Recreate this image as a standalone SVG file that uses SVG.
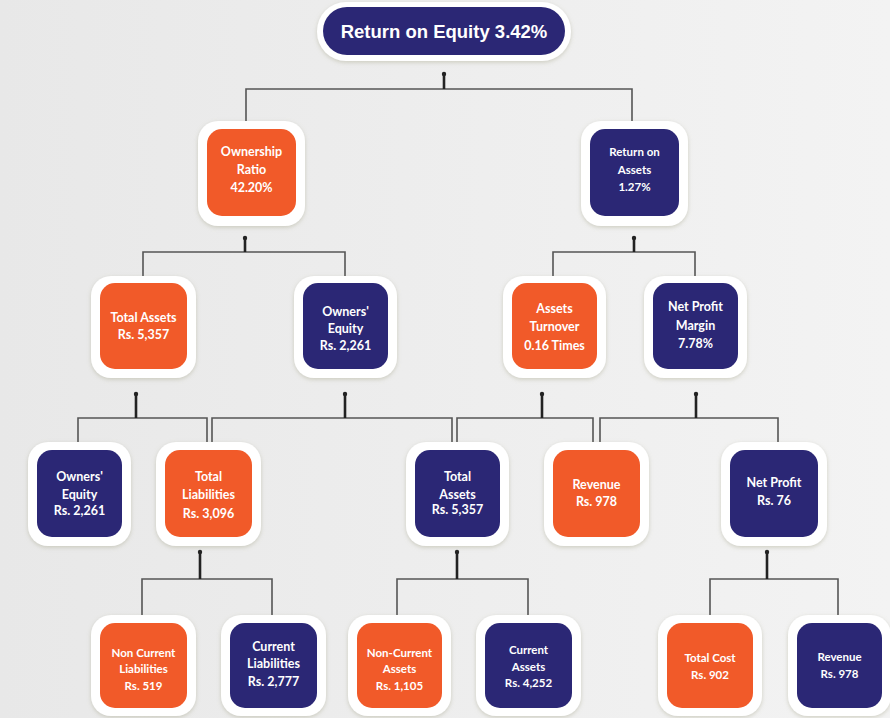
<svg xmlns="http://www.w3.org/2000/svg" width="890" height="718" viewBox="0 0 890 718">
<defs>
<linearGradient id="bg" x1="0" y1="0" x2="1" y2="0">
<stop offset="0" stop-color="#e8e8e8"/>
<stop offset="1" stop-color="#f3f3f3"/>
</linearGradient>
<filter id="sh" x="-20%" y="-20%" width="140%" height="140%">
<feDropShadow dx="0" dy="1.5" stdDeviation="2" flood-color="#9a9a7a" flood-opacity="0.4"/>
</filter>
<marker id="dot" markerWidth="6" markerHeight="6" refX="3" refY="3" markerUnits="userSpaceOnUse">
<circle cx="3" cy="3" r="2.2" fill="#222"/>
</marker>
</defs>
<style>
.halo{fill:#ffffff;filter:url(#sh)}
.or{fill:#f15a29}
.nv{fill:#2b2775}
.t{font-family:Lato,"Open Sans",sans-serif;font-weight:700;fill:#ffffff;text-anchor:middle;font-size:12.5px}
.s{font-size:11.5px}
.ln{fill:none;stroke:#555;stroke-width:1.6}
.stub{fill:none;stroke:#222;stroke-width:2.6;marker-start:url(#dot)}
</style>
<rect width="890" height="718" fill="url(#bg)"/>

<g id="connectors">
<path class="ln" d="M246 122V89H632V122"/>
<path class="stub" d="M444 74V89"/>
<path class="ln" d="M143 278V252H345V278"/>
<path class="stub" d="M245 238V252"/>
<path class="ln" d="M553 278V252H695V278"/>
<path class="stub" d="M634 238V252"/>
<path class="ln" d="M78 443V418H207V443"/>
<path class="stub" d="M136 394V418"/>
<path class="ln" d="M212 443V418H452V443"/>
<path class="stub" d="M345 394V418"/>
<path class="ln" d="M457 443V418H593V443"/>
<path class="stub" d="M542 394V418"/>
<path class="ln" d="M600 443V418H778V443"/>
<path class="stub" d="M696 394V418"/>
<path class="ln" d="M142 615V579H272V615"/>
<path class="stub" d="M200 552V579"/>
<path class="ln" d="M397 615V579H528V615"/>
<path class="stub" d="M457 552V579"/>
<path class="ln" d="M710 615V579H838V615"/>
<path class="stub" d="M767 552V579"/>
</g>

<g id="roe">
<rect class="halo" x="317" y="2" width="254" height="59" rx="29"/>
<rect class="nv" x="323" y="7" width="242" height="48" rx="24"/>
<text x="444" y="38" style="font-family:'Liberation Sans',Arial,sans-serif;font-weight:700;font-size:18.5px;fill:#fff;text-anchor:middle">Return on Equity 3.42%</text>
</g>

<g id="ownership-ratio">
<rect class="halo" x="198" y="121" width="107" height="105" rx="20"/>
<rect class="or" x="207" y="129" width="89" height="87" rx="15"/>
<text class="t" x="251.5" y="156">Ownership</text>
<text class="t" x="251.5" y="174">Ratio</text>
<text class="t" x="251.5" y="192">42.20%</text>
</g>

<g id="roa">
<rect class="halo" x="581" y="121" width="107" height="105" rx="20"/>
<rect class="nv" x="590" y="129" width="89" height="87" rx="15"/>
<text class="t s" x="634.5" y="156">Return on</text>
<text class="t s" x="634.5" y="174">Assets</text>
<text class="t s" x="634.5" y="191">1.27%</text>
</g>

<g id="total-assets-1">
<rect class="halo" x="91" y="276" width="105" height="102" rx="20"/>
<rect class="or" x="100" y="283" width="87" height="86" rx="15"/>
<text class="t" x="143.5" y="322">Total Assets</text>
<text class="t" x="143.5" y="339">Rs. 5,357</text>
</g>

<g id="owners-equity-1">
<rect class="halo" x="294" y="276" width="103" height="102" rx="20"/>
<rect class="nv" x="303" y="283" width="85" height="86" rx="15"/>
<text class="t" x="345.5" y="316">Owners'</text>
<text class="t" x="345.5" y="333">Equity</text>
<text class="t" x="345.5" y="350">Rs. 2,261</text>
</g>

<g id="assets-turnover">
<rect class="halo" x="503" y="276" width="103" height="102" rx="20"/>
<rect class="or" x="512" y="283" width="85" height="86" rx="15"/>
<text class="t" x="554.5" y="313">Assets</text>
<text class="t" x="554.5" y="331">Turnover</text>
<text class="t" x="554.5" y="350">0.16 Times</text>
</g>

<g id="net-profit-margin">
<rect class="halo" x="644" y="276" width="103" height="102" rx="20"/>
<rect class="nv" x="653" y="283" width="85" height="86" rx="15"/>
<text class="t" x="695.5" y="311">Net Profit</text>
<text class="t" x="695.5" y="330">Margin</text>
<text class="t" x="695.5" y="348">7.78%</text>
</g>

<g id="owners-equity-2">
<rect class="halo" x="28" y="442" width="103" height="104" rx="20"/>
<rect class="nv" x="37" y="450" width="85" height="87" rx="15"/>
<text class="t" x="79.5" y="481">Owners'</text>
<text class="t" x="79.5" y="499">Equity</text>
<text class="t" x="79.5" y="515">Rs. 2,261</text>
</g>

<g id="total-liabilities">
<rect class="halo" x="156" y="442" width="105" height="104" rx="20"/>
<rect class="or" x="165" y="450" width="87" height="87" rx="15"/>
<text class="t" x="208.5" y="481">Total</text>
<text class="t" x="208.5" y="499">Liabilities</text>
<text class="t" x="208.5" y="518">Rs. 3,096</text>
</g>

<g id="total-assets-2">
<rect class="halo" x="406" y="442" width="103" height="104" rx="20"/>
<rect class="nv" x="415" y="450" width="85" height="87" rx="15"/>
<text class="t" x="457.5" y="481">Total</text>
<text class="t" x="457.5" y="499">Assets</text>
<text class="t" x="457.5" y="514">Rs. 5,357</text>
</g>

<g id="revenue-1">
<rect class="halo" x="544" y="442" width="105" height="104" rx="20"/>
<rect class="or" x="553" y="450" width="87" height="87" rx="15"/>
<text class="t" x="596.5" y="489">Revenue</text>
<text class="t" x="596.5" y="506">Rs. 978</text>
</g>

<g id="net-profit">
<rect class="halo" x="721" y="442" width="106" height="104" rx="20"/>
<rect class="nv" x="730" y="450" width="88" height="87" rx="15"/>
<text class="t" x="774" y="487">Net Profit</text>
<text class="t" x="774" y="505">Rs. 76</text>
</g>

<g id="non-current-liabilities">
<rect class="halo" x="91" y="615" width="105" height="101" rx="20"/>
<rect class="or" x="100" y="623" width="87" height="85" rx="15"/>
<text class="t s" x="143.5" y="657">Non Current</text>
<text class="t s" x="143.5" y="673">Liabilities</text>
<text class="t s" x="143.5" y="690">Rs. 519</text>
</g>

<g id="current-liabilities">
<rect class="halo" x="221" y="615" width="105" height="101" rx="20"/>
<rect class="nv" x="230" y="623" width="87" height="85" rx="15"/>
<text class="t" x="273.5" y="651">Current</text>
<text class="t" x="273.5" y="668">Liabilities</text>
<text class="t" x="273.5" y="686">Rs. 2,777</text>
</g>

<g id="non-current-assets">
<rect class="halo" x="348" y="615" width="103" height="101" rx="20"/>
<rect class="or" x="357" y="623" width="85" height="85" rx="15"/>
<text class="t s" x="399.5" y="657">Non-Current</text>
<text class="t s" x="399.5" y="673">Assets</text>
<text class="t s" x="399.5" y="690">Rs. 1,105</text>
</g>

<g id="current-assets">
<rect class="halo" x="476" y="615" width="105" height="101" rx="20"/>
<rect class="nv" x="485" y="623" width="87" height="85" rx="15"/>
<text class="t s" x="528.5" y="654">Current</text>
<text class="t s" x="528.5" y="671">Assets</text>
<text class="t s" x="528.5" y="687">Rs. 4,252</text>
</g>

<g id="total-cost">
<rect class="halo" x="658" y="615" width="104" height="101" rx="20"/>
<rect class="or" x="667" y="623" width="86" height="85" rx="15"/>
<text class="t s" x="710" y="662">Total Cost</text>
<text class="t s" x="710" y="679">Rs. 902</text>
</g>

<g id="revenue-2">
<rect class="halo" x="788" y="615" width="103" height="101" rx="20"/>
<rect class="nv" x="797" y="623" width="85" height="85" rx="15"/>
<text class="t s" x="839.5" y="661">Revenue</text>
<text class="t s" x="839.5" y="678">Rs. 978</text>
</g>
</svg>
